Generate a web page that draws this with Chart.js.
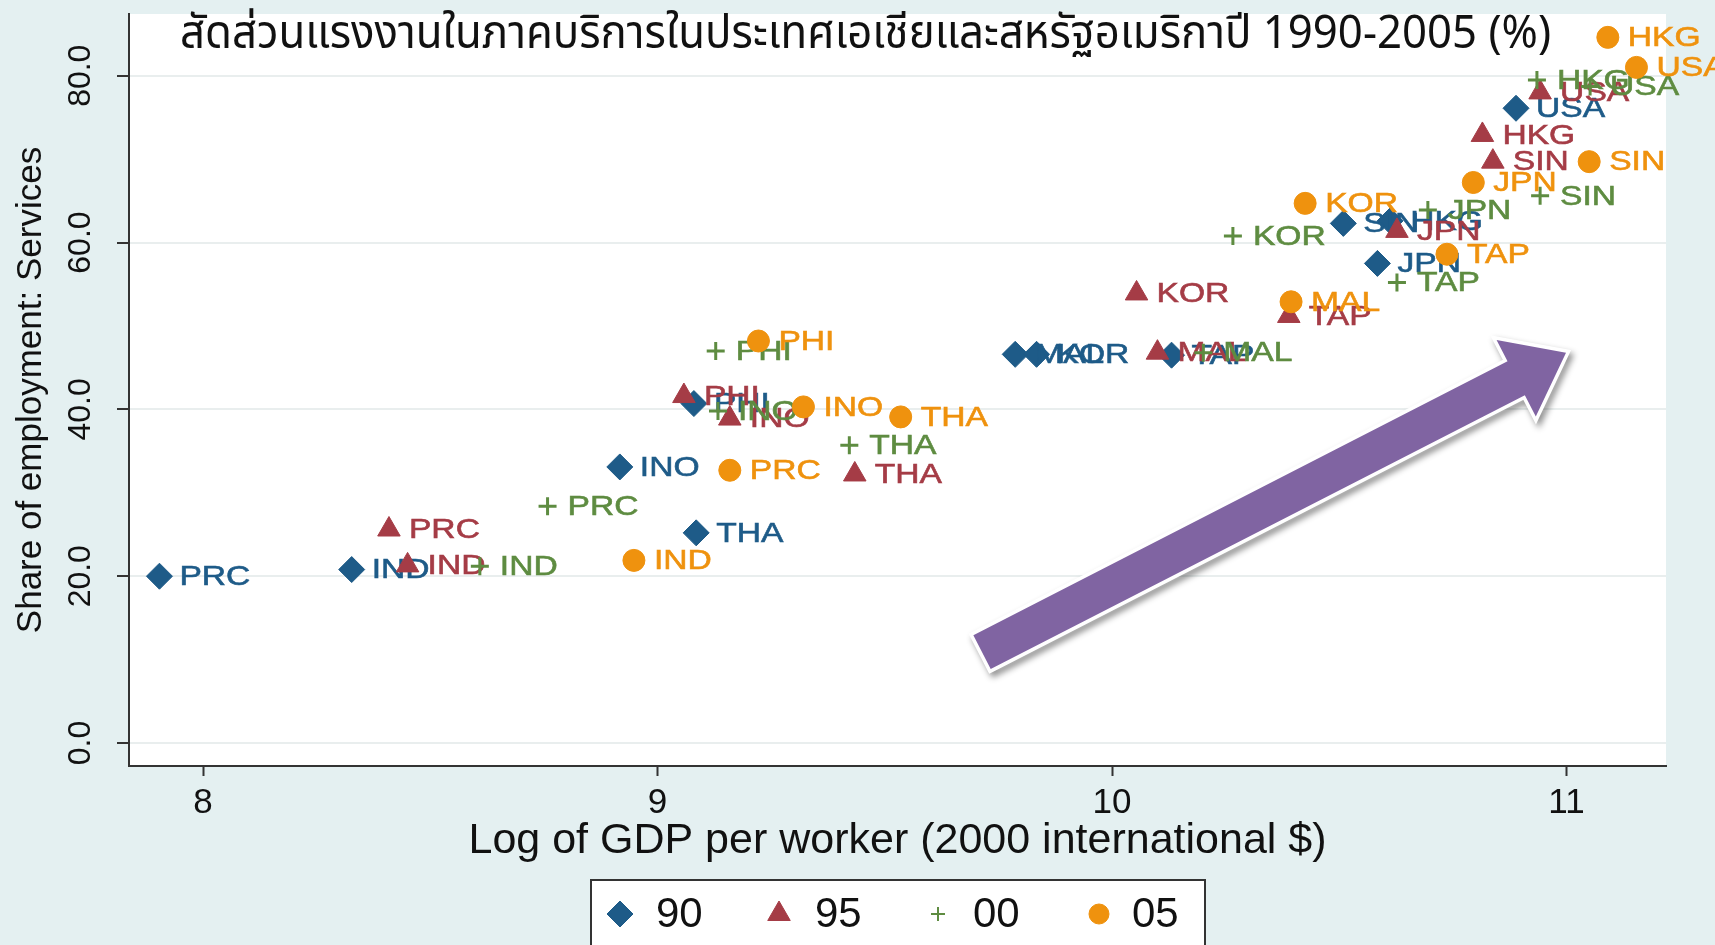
<!DOCTYPE html>
<html><head><meta charset="utf-8">
<script src="https://cdn.jsdelivr.net/npm/chart.js@4.4.1/dist/chart.umd.min.js"></script>
<style>
html,body{margin:0;padding:0;background:#e4f0f1;}
canvas{display:block;}
</style></head><body>
<canvas id="c" width="1715" height="945"></canvas>
<script>
// ---------- text ----------
const TITLE = 'สัดส่วนแรงงานในภาคบริการในประเทศเอเชียและสหรัฐอเมริกาปี 1990-2005 (%)';
const X_LABEL = 'Log of GDP per worker (2000 international $)';
const Y_LABEL = 'Share of employment: Services';

// ---------- axes ----------
const X_TICKS = [8, 9, 10, 11];
const X_TICK_LABELS = ['8', '9', '10', '11'];
const Y_TICKS = [0, 20, 40, 60, 80];
const Y_TICK_LABELS = ['0.0', '20.0', '40.0', '60.0', '80.0'];
const X_MIN = 7.837, X_MAX = 11.219;
const Y_MIN = -2.75, Y_MAX = 87.4;

// ---------- data ----------
const CODES = ['PRC', 'IND', 'INO', 'THA', 'PHI', 'MAL', 'KOR', 'TAP', 'SIN', 'HKG', 'JPN', 'USA'];
const SERIES_NAMES = ['90', '95', '00', '05'];

const X_90 = [7.904, 8.327, 8.917, 9.085, 9.080, 9.787, 9.834, 10.131, 10.509, 10.612, 10.584, 10.889];
const Y_90 = [20.0, 20.8, 33.1, 25.2, 40.7, 46.6, 46.6, 46.5, 62.3, 62.6, 57.5, 76.1];

const X_95 = [8.409, 8.450, 9.159, 9.434, 9.058, 10.100, 10.054, 10.389, 10.838, 10.815, 10.627, 10.942];
const Y_95 = [25.6, 21.3, 38.9, 32.2, 41.6, 46.8, 53.9, 51.2, 69.7, 72.9, 61.4, 78.0];

const X_00 = [8.758, 8.609, 9.133, 9.422, 9.128, 10.201, 10.266, 10.627, 10.942, 10.935, 10.695, 11.052];
const Y_00 = [28.4, 21.2, 39.8, 35.7, 47.0, 46.8, 60.8, 55.2, 65.6, 79.5, 63.9, 78.7];

const X_05 = [9.159, 8.948, 9.321, 9.535, 9.222, 10.394, 10.425, 10.737, 11.050, 11.091, 10.795, 11.154];
const Y_05 = [32.7, 21.9, 40.3, 39.1, 48.2, 52.9, 64.7, 58.6, 69.7, 84.6, 67.2, 81.0];

// decorative arrow (data coordinates: tail centre, tip)
const ARROW_FROM = [9.714, 10.9];
const ARROW_TO = [10.999, 46.8];

// ---------- styles ----------
const COLORS = ['#1e5b88', '#a53c46', '#5e8c41', '#ef920e'];
const STYLES = ['rectRot', 'triangle', 'cross', 'circle'];
const RADII = [13, 13, 9, 11];
const BORDERS = [1, 1, 3, 1];
const SANS = '"Liberation Sans", Arial, Helvetica, sans-serif';

const XS = [X_90, X_95, X_00, X_05];
const YS = [Y_90, Y_95, Y_00, Y_05];

const datasets = SERIES_NAMES.map((name, k) => ({
  label: name,
  data: XS[k].map((x, j) => ({ x: x, y: YS[k][j] })),
  codes: CODES,
  pointStyle: STYLES[k],
  pointRadius: RADII[k],
  pointHoverRadius: RADII[k],
  pointBackgroundColor: COLORS[k],
  pointBorderColor: COLORS[k],
  pointBorderWidth: BORDERS[k],
  showLine: false,
  order: 4 - k,
  clip: false
}));

// ---------- plugins ----------
const bgPlugin = {
  id: 'bg',
  beforeDraw(chart) {
    const { ctx, chartArea: a } = chart;
    ctx.save();
    ctx.fillStyle = '#e4f0f1';
    ctx.fillRect(0, 0, chart.width, chart.height);
    ctx.fillStyle = '#ffffff';
    ctx.fillRect(a.left, a.top, a.right - a.left, a.bottom - a.top);
    ctx.restore();
  }
};

const labelPlugin = {
  id: 'mlabels',
  afterDatasetDraw(chart, args) {
    const ds = chart.data.datasets[args.index];
    const ctx = chart.ctx;
    ctx.save();
    ctx.font = '28px ' + SANS;
    ctx.fillStyle = ds.pointBackgroundColor;
    ctx.strokeStyle = ds.pointBackgroundColor;
    ctx.lineWidth = 0.6;
    ctx.textBaseline = 'middle';
    ctx.textAlign = 'left';
    args.meta.data.forEach((pt, j) => {
      ctx.save();
      ctx.translate(pt.x + 20, pt.y + 1);
      ctx.scale(1.2, 1);
      ctx.fillText(ds.codes[j], 0, 0);
      ctx.strokeText(ds.codes[j], 0, 0);
      ctx.restore();
    });
    ctx.restore();
  }
};

const arrowPlugin = {
  id: 'arrow',
  afterDatasetsDraw(chart) {
    const { ctx, scales: { x, y } } = chart;
    const tx = x.getPixelForValue(ARROW_FROM[0]), ty = y.getPixelForValue(ARROW_FROM[1]);
    const px = x.getPixelForValue(ARROW_TO[0]), py = y.getPixelForValue(ARROW_TO[1]);
    const dx = px - tx, dy = py - ty, len = Math.hypot(dx, dy);
    const ux = dx / len, uy = dy / len, nx = -uy, ny = ux;
    const w = 19, H = 43, L = 56;
    const bx = px - ux * L, by = py - uy * L;
    const pts = [
      [tx + nx * w, ty + ny * w], [bx + nx * w, by + ny * w], [bx + nx * H, by + ny * H],
      [px, py],
      [bx - nx * H, by - ny * H], [bx - nx * w, by - ny * w], [tx - nx * w, ty - ny * w]
    ];
    ctx.save();
    ctx.beginPath();
    pts.forEach((p, i) => i ? ctx.lineTo(p[0], p[1]) : ctx.moveTo(p[0], p[1]));
    ctx.closePath();
    ctx.lineJoin = 'miter';
    ctx.shadowColor = 'rgba(0,0,0,0.45)';
    ctx.shadowBlur = 6;
    ctx.shadowOffsetX = 3;
    ctx.shadowOffsetY = 4;
    ctx.lineWidth = 7;
    ctx.strokeStyle = '#ffffff';
    ctx.stroke();
    ctx.shadowColor = 'transparent';
    ctx.fillStyle = '#8064a2';
    ctx.fill();
    ctx.restore();
  }
};

const titlePlugin = {
  id: 'thaiTitle',
  afterDraw(chart) {
    const ctx = chart.ctx;
    ctx.save();
    ctx.font = '46px "Noto Sans Thai", "Noto Sans", sans-serif';
    ctx.fillStyle = '#111111';
    ctx.textBaseline = 'alphabetic';
    ctx.textAlign = 'left';
    const wTxt = ctx.measureText(TITLE).width;
    const target = 1371;
    ctx.translate(180, 48);
    ctx.scale(target / wTxt, 1);
    ctx.fillText(TITLE, 0, 0);
    ctx.restore();
  }
};

const legendPlugin = {
  id: 'boxLegend',
  afterDraw(chart) {
    const ctx = chart.ctx;
    const left = 591, top = 880, width = 614;
    const markerX = [620, 779, 938, 1099];
    const textX = [656, 815, 973, 1132];
    const cy = 914;
    ctx.save();
    ctx.fillStyle = '#ffffff';
    ctx.fillRect(left, top, width, chart.height - top + 10);
    ctx.strokeStyle = '#333333';
    ctx.lineWidth = 2;
    ctx.strokeRect(left, top, width, chart.height - top + 10);
    chart.data.datasets.forEach((ds, k) => {
      ctx.fillStyle = ds.pointBackgroundColor;
      ctx.strokeStyle = ds.pointBorderColor;
      ctx.lineWidth = k === 2 ? 2 : 1;
      Chart.helpers.drawPoint(ctx, {
        pointStyle: ds.pointStyle,
        radius: k === 2 ? 7 : (k === 3 ? 10 : 13),
        rotation: 0,
        borderWidth: ctx.lineWidth
      }, markerX[k], cy);
      ctx.fillStyle = '#111111';
      ctx.font = '42px ' + SANS;
      ctx.textBaseline = 'middle';
      ctx.textAlign = 'left';
      ctx.fillText(ds.label, textX[k], cy + 1);
    });
    ctx.restore();
  }
};

// ---------- chart ----------
new Chart(document.getElementById('c'), {
  type: 'scatter',
  data: { datasets: datasets },
  options: {
    responsive: false,
    animation: false,
    devicePixelRatio: 1,
    layout: { padding: { top: 9, right: 49, left: 0, bottom: 0 } },
    plugins: { legend: { display: false }, tooltip: { enabled: false }, title: { display: false } },
    scales: {
      x: {
        type: 'linear', position: 'bottom', min: X_MIN, max: X_MAX,
        afterBuildTicks: s => { s.ticks = X_TICKS.map(v => ({ value: v })); },
        afterFit: s => { s.height = 179; s.paddingLeft = 0; s.paddingRight = 0; },
        ticks: {
          callback: (v, i) => X_TICK_LABELS[i],
          autoSkip: false, maxRotation: 0, minRotation: 0, padding: 6,
          color: '#111111', font: { family: SANS, size: 35 }
        },
        grid: { drawOnChartArea: false, drawTicks: true, tickLength: 10, tickColor: '#333333', tickWidth: 2, color: '#333333' },
        border: { display: true, color: '#333333', width: 2 },
        title: { display: true, text: X_LABEL, color: '#111111', font: { family: SANS, size: 43 }, padding: { top: 0, bottom: 78 } }
      },
      y: {
        type: 'linear', position: 'left', min: Y_MIN, max: Y_MAX,
        afterBuildTicks: s => { s.ticks = Y_TICKS.map(v => ({ value: v })); },
        afterFit: s => { s.width = 129; s.paddingTop = 0; s.paddingBottom = 0; },
        ticks: {
          callback: (v, i) => Y_TICK_LABELS[i],
          autoSkip: false, minRotation: 90, maxRotation: 90, crossAlign: 'center', padding: 5,
          color: '#111111', font: { family: SANS, size: 32 }
        },
        grid: { drawOnChartArea: true, color: '#e9eeee', lineWidth: 2, drawTicks: true, tickLength: 12, tickColor: '#333333', tickWidth: 2 },
        border: { display: true, color: '#333333', width: 2 },
        title: { display: true, text: Y_LABEL, color: '#111111', font: { family: SANS, size: 35 }, padding: { top: 10, bottom: 0 } }
      }
    }
  },
  plugins: [bgPlugin, labelPlugin, arrowPlugin, titlePlugin, legendPlugin]
});
</script>
</body></html>
